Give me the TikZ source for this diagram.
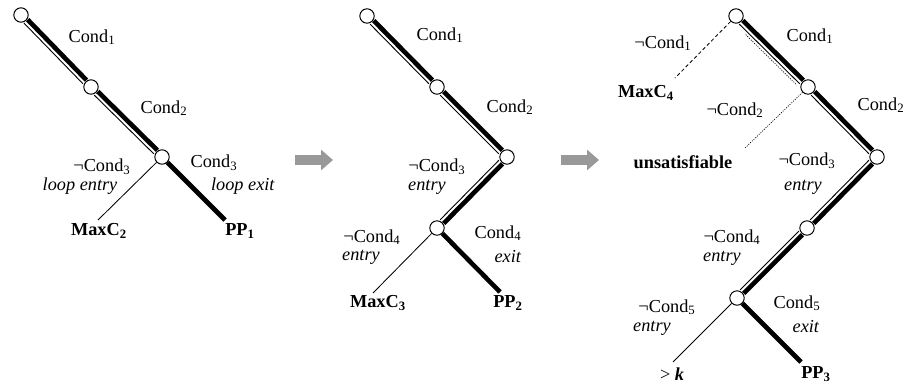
\documentclass[tikz,border=0pt]{standalone}
\usepackage{fontspec}
\setmainfont{Liberation Serif}
\usetikzlibrary{calc,arrows.meta}

\newcommand{\cnd}[1]{Cond\textsubscript{#1}}
\newcommand{\ncnd}[1]{¬Cond\textsubscript{#1}}
\newcommand{\pathedge}[2]{%
  \draw[heavy] ($(#1)!1.1pt!90:(#2)$) -- ($(#2)!1.1pt!-90:(#1)$);
  \draw[light] ($(#1)!2.5pt!-90:(#2)$) -- ($(#2)!2.5pt!90:(#1)$);}

\tikzset{
  state/.style={circle, draw, fill=white, inner sep=0pt, minimum size=0.36cm, line width=0.7pt},
  heavy/.style={line width=3.3pt, shorten <=0.2cm, shorten >=0.2cm},
  light/.style={line width=0.65pt, shorten <=0.2cm, shorten >=0.2cm},
  heavyleaf/.style={line width=3.3pt},
  lightleaf/.style={line width=0.6pt},
  lbl/.style={inner sep=0pt, font=\fontsize{13}{15}\selectfont},
  blockarrow/.style={draw=gray!80, line width=0.25cm, -{Triangle[length=0.3cm,width=0.5cm]}}
}

\begin{document}
\begin{tikzpicture}[x=0.025cm, y=-0.025cm]
\useasboundingbox (0,0) rectangle (905,387);

% first tree
\node[state] (a1) at (21,15) {};
\node[state] (a2) at (91,87) {};
\node[state] (a3) at (162,157) {};
\coordinate (a3l) at (98,220);
\coordinate (a3r) at (225,220);
\pathedge{a1}{a2}
\pathedge{a2}{a3}
\draw[lightleaf] (a3) -- (a3l);
\draw[heavyleaf] (a3) -- (a3r);
\node[lbl] (la1) at (92,37) {\cnd{1}};
\node[lbl] (la2) at (164,108) {\cnd{2}};
\node[lbl] (la3) at (102,167) {\ncnd{3}};
\node[lbl] (la4) at (80,186) {\textit{loop entry}};
\node[lbl] (la5) at (214,163) {\cnd{3}};
\node[lbl] (la6) at (243,186) {\textit{loop exit}};
\node[lbl] (la7) at (99,231) {\bfseries MaxC\textsubscript{2}};
\node[lbl] (la8) at (240,231) {\bfseries PP\textsubscript{1}};

\coordinate (ar1s) at (295,160);
\coordinate (ar1e) at (333,160);
\draw[blockarrow] (ar1s) -- (ar1e);

% second tree
\node[state] (b1) at (367,16) {};
\node[state] (b2) at (437,87) {};
\node[state] (b3) at (507,157) {};
\node[state] (b4) at (437,228) {};
\coordinate (b4l) at (373,293);
\coordinate (b4r) at (500,292);
\pathedge{b1}{b2}
\pathedge{b2}{b3}
\pathedge{b3}{b4}
\draw[lightleaf] (b4) -- (b4l);
\draw[heavyleaf] (b4) -- (b4r);
\node[lbl] (lb1) at (440,35) {\cnd{1}};
\node[lbl] (lb2) at (510,107) {\cnd{2}};
\node[lbl] (lb3) at (437,167) {\ncnd{3}};
\node[lbl] (lb4) at (427,187) {\textit{entry}};
\node[lbl] (lb5) at (372,237) {\ncnd{4}};
\node[lbl] (lb6) at (361,257) {\textit{entry}};
\node[lbl] (lb7) at (498,233) {\cnd{4}};
\node[lbl] (lb8) at (508,257) {\textit{exit}};
\node[lbl] (lb9) at (378,303) {\bfseries MaxC\textsubscript{3}};
\node[lbl] (lb10) at (508,303) {\bfseries PP\textsubscript{2}};

\coordinate (ar2s) at (561,160);
\coordinate (ar2e) at (599,160);
\draw[blockarrow] (ar2s) -- (ar2e);

% third tree
\node[state] (c1) at (736,16) {};
\node[state] (c2) at (808,87) {};
\node[state] (c3) at (877,157) {};
\node[state] (c4) at (807,228) {};
\node[state] (c5) at (737,298) {};
\coordinate (c1l) at (675,78);
\coordinate (c2l) at (745,148);
\coordinate (c5l) at (673,362);
\coordinate (c5r) at (801,362);
\pathedge{c1}{c2}
\pathedge{c2}{c3}
\pathedge{c3}{c4}
\pathedge{c4}{c5}
\draw[lightleaf, dash pattern=on 2.5pt off 1.8pt] (c1) -- (c1l);
\draw[line width=0.45pt, dash pattern=on 0.8pt off 0.9pt, shorten <=0.5cm, shorten >=0.23cm]
  ($(c1)!4.6pt!-90:(c2)$) -- ($(c2)!4.6pt!90:(c1)$);
\draw[line width=0.45pt, dash pattern=on 0.8pt off 0.9pt] (c2) -- (c2l);
\draw[lightleaf] (c5) -- (c5l);
\draw[heavyleaf] (c5) -- (c5r);
\node[lbl] (lc1) at (663,43) {\ncnd{1}};
\node[lbl] (lc2) at (810,36) {\cnd{1}};
\node[lbl] (lc3) at (646,93) {\bfseries MaxC\textsubscript{4}};
\node[lbl] (lc4) at (735,110) {\ncnd{2}};
\node[lbl] (lc5) at (881,105) {\cnd{2}};
\node[lbl] (lc6) at (683,162) {\bfseries unsatisfiable};
\node[lbl] (lc7) at (807,161) {\ncnd{3}};
\node[lbl] (lc8) at (803,187) {\textit{entry}};
\node[lbl] (lc9) at (732,237) {\ncnd{4}};
\node[lbl] (lc10) at (722,258) {\textit{entry}};
\node[lbl] (lc11) at (667,307) {\ncnd{5}};
\node[lbl] (lc12) at (652,328) {\textit{entry}};
\node[lbl] (lc13) at (797,303) {\cnd{5}};
\node[lbl] (lc14) at (806,327) {\textit{exit}};
\node[lbl] (lc15) at (672,374) {> \textbf{\textit{k}}};
\node[lbl] (lc16) at (816,374) {\bfseries PP\textsubscript{3}};
\end{tikzpicture}
\end{document}
